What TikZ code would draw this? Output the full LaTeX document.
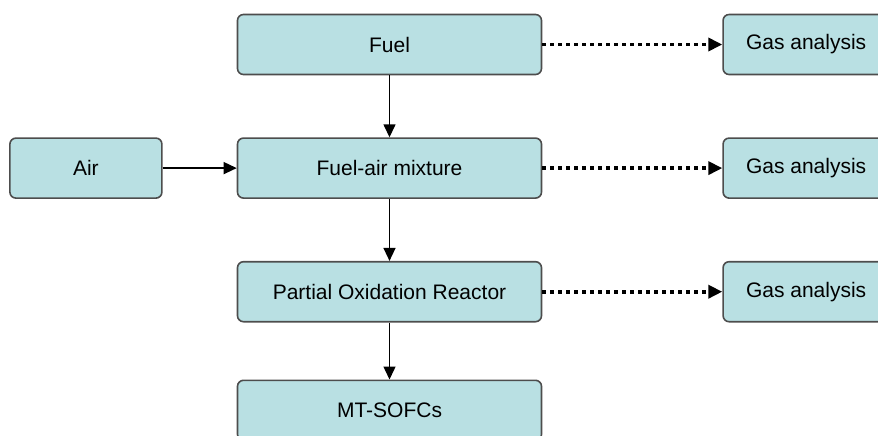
\documentclass[tikz,border=0pt]{standalone}
\usepackage{fontspec}
\setmainfont{Liberation Sans}
\usepackage{xcolor}
\usetikzlibrary{arrows.meta,positioning}
\definecolor{boxfill}{HTML}{B9E0E3}
\definecolor{boxline}{HTML}{4D4D4D}
\tikzset{
  box/.style={rectangle, rounded corners=3pt, draw=boxline, fill=boxfill, line width=0.8pt,
              minimum width=152pt, minimum height=30pt, inner sep=2pt,
              font=\fontsize{10.5}{12}\selectfont},
  airbox/.style={box, minimum width=76pt},
  gasbox/.style={box, minimum width=83pt},
  fl/.style={-{Triangle[length=6.5pt,width=6pt]}, line width=0.7pt, draw=black},
  fld/.style={-{Triangle[length=7pt,width=6.5pt]}, line width=1.9pt, dash pattern=on 2pt off 2pt, draw=black}
}

\begin{document}
\begin{tikzpicture}
  \useasboundingbox (0,0) rectangle (439pt,-217.5pt);
  \node[box] (fuel) at (194.75pt,-22.25pt) {Fuel};
  \node[box, below=31pt of fuel] (mix) {Fuel-air mixture};
  \node[box, below=31pt of mix] (pox) {Partial Oxidation Reactor};
  \node[box, below=28.5pt of pox] (sofc) {MT-SOFCs};
  \node[airbox, left=37pt of mix] (air) {Air};
  \node[gasbox, right=90pt of fuel] (gas1) {Gas analysis};
  \node[gasbox, right=90pt of mix] (gas2) {Gas analysis};
  \node[gasbox, right=90pt of pox] (gas3) {Gas analysis};
  % main flow
  \draw[fl] (fuel) -- (mix);
  \draw[fl] (mix) -- (pox);
  \draw[fl] (pox) -- (sofc);
  \draw[fl] (air) -- (mix);
  % sampling
  \draw[fld] (fuel) -- (gas1);
  \draw[fld] (mix) -- (gas2);
  \draw[fld] (pox) -- (gas3);
\end{tikzpicture}
\end{document}
